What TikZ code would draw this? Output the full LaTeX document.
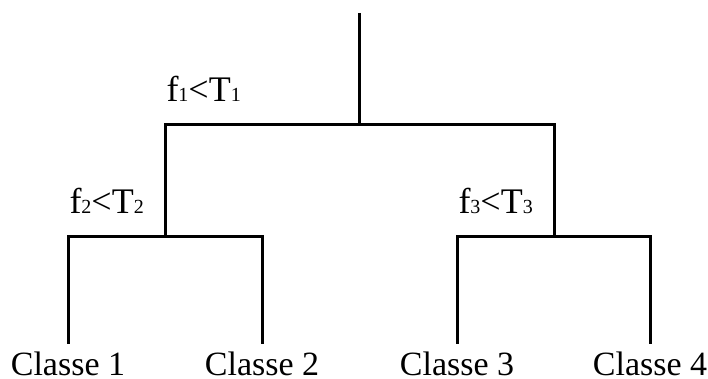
\documentclass[tikz,border=0pt]{standalone}
\usepackage{fontspec}
\setmainfont{Liberation Serif}

\newcommand{\splitcond}[2]{f{\fontsize{20}{20}\selectfont #1}<T{\fontsize{20}{20}\selectfont #2}}

\begin{document}
\begin{tikzpicture}[x=1pt, y=-1pt, line width=3pt,
	every node/.style={font=\fontsize{34}{40}\selectfont},
	leaf/.style={anchor=base, inner sep=0pt, text height=30pt, text depth=0pt},
	test/.style={anchor=base west, inner sep=0pt, font=\fontsize{36}{40}\selectfont}]
	\useasboundingbox (0,0) rectangle (708,379);
	% split points
	\coordinate (top) at (359,13);
	\coordinate (n1) at (359,125);
	\coordinate (n2) at (165,236);
	\coordinate (n3) at (554,236);
	% leaves
	\node[leaf] (c1) at (68,375) {Classe 1};
	\node[leaf] (c2) at (262,375) {Classe 2};
	\node[leaf] (c3) at (457,375) {Classe 3};
	\node[leaf] (c4) at (650,375) {Classe 4};
	% tree
	\draw (top) -- (n1);
	\draw (n2) |- (n1) -| (n3);
	\draw (c1.north) |- (n2) -| (c2.north);
	\draw (c3.north) |- (n3) -| (c4.north);
	% tests
	\node[test] (s1) at (165,102) {\splitcond{1}{1}};
	\node[test] (s2) at (68,213) {\splitcond{2}{2}};
	\node[test] (s3) at (457,213) {\splitcond{3}{3}};
\end{tikzpicture}
\end{document}
